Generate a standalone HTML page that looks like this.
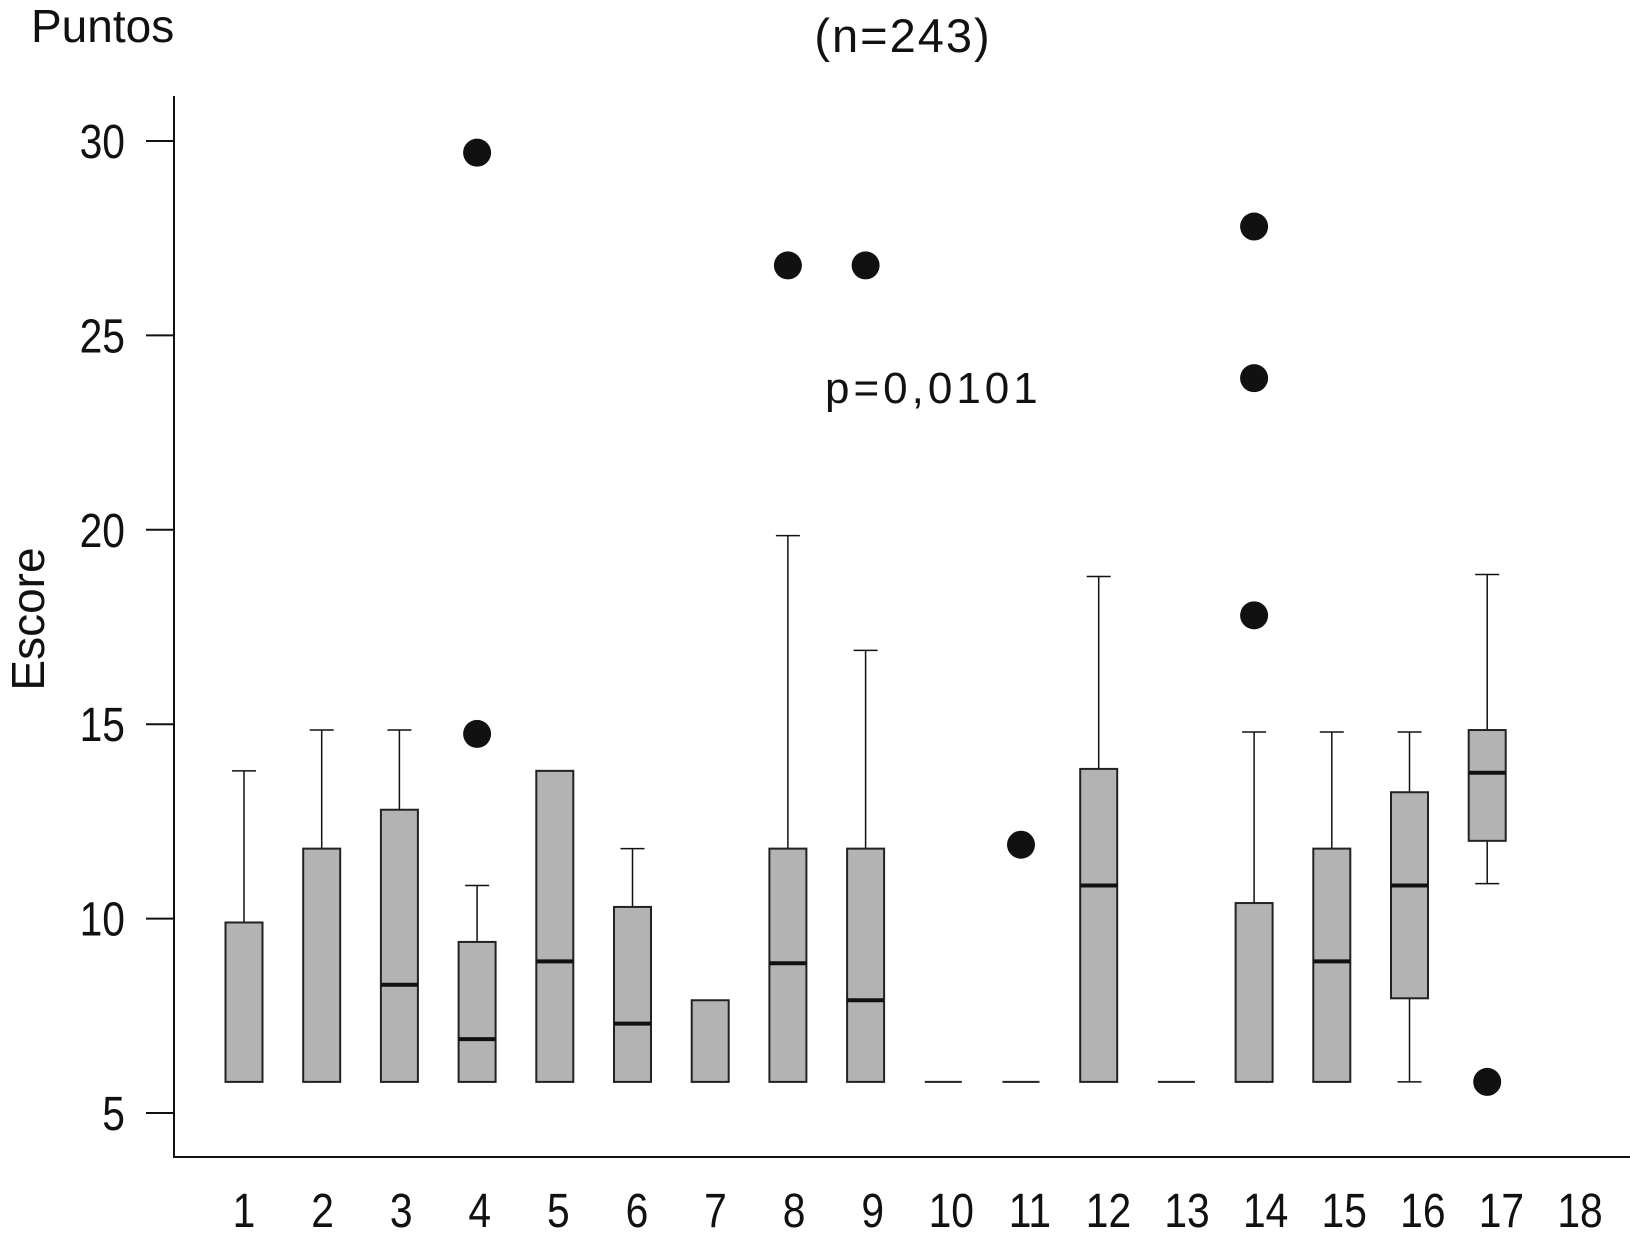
<!DOCTYPE html>
<html><head><meta charset="utf-8"><style>
html,body{margin:0;padding:0;background:#fff;}
svg{display:block;font-family:"Liberation Sans",Arial,sans-serif;}
</style></head><body>
<svg id="chart" width="1630" height="1240" viewBox="0 0 1630 1240">
<text x="31" y="42" font-size="46" fill="#111">Puntos</text>
<text x="903" y="52" font-size="47" fill="#111" text-anchor="middle" letter-spacing="2">(n=243)</text>
<text x="825" y="403" font-size="44" fill="#111" letter-spacing="4">p=0,0101</text>
<text transform="translate(44,619) rotate(-90)" font-size="46" fill="#111" text-anchor="middle">Escore</text>
<g id="axes"></g>
<g id="marks"></g>
</svg>
<script>
const categories = ["1","2","3","4","5","6","7","8","9","10","11","12","13","14","15","16","17","18"];
const whiskerLow = [5.8,5.8,5.8,5.8,5.8,5.8,5.8,5.8,5.8,5.8,5.8,5.8,5.8,5.8,5.8,5.8,10.9,null];
const q1Values   = [5.8,5.8,5.8,5.8,5.8,5.8,5.8,5.8,5.8,5.8,5.8,5.8,5.8,5.8,5.8,7.95,12.0,null];
const medians    = [null,null,8.3,6.9,8.9,7.3,null,8.85,7.9,null,null,10.85,null,null,8.9,10.85,13.75,null];
const q3Values   = [9.9,11.8,12.8,9.4,13.8,10.3,7.9,11.8,11.8,5.8,5.8,13.85,5.8,10.4,11.8,13.25,14.85,null];
const whiskerHigh= [13.8,14.85,14.85,10.85,13.8,11.8,7.9,19.85,16.9,5.8,5.8,18.8,5.8,14.8,14.8,14.8,18.85,null];
const outlierCat = [4,4,8,9,11,14,14,14,17];
const outlierVal = [29.7,14.75,26.8,26.8,11.9,27.8,23.9,17.8,5.8];
const yTicks = [5,10,15,20,25,30];

const NS="http://www.w3.org/2000/svg";
const yScale = v => 1113 - (v-5)*38.88;
const xScale = i => 244 + i*77.7;
function mk(tag, attrs, parent){const e=document.createElementNS(NS,tag);for(const k in attrs)e.setAttribute(k,attrs[k]);parent.appendChild(e);return e;}
const axes=document.getElementById('axes'), marks=document.getElementById('marks');

let a=mk('line',{x1:174,y1:96,x2:174,y2:1158,stroke:'#111','stroke-width':2},axes);


a=mk('line',{x1:173,y1:1157,x2:1630,y2:1157,stroke:'#111','stroke-width':2},axes);


yTicks.forEach(t=>{
  const y=yScale(t);
  const l=mk('line',{x1:146,y1:y,x2:174,y2:y,stroke:'#111','stroke-width':2},axes);
  
  
  const tx=mk('text',{x:0,y:0,transform:'translate(125,'+(y+17)+') scale(0.85,1)','font-size':48,'text-anchor':'end',fill:'#111'},axes);
  tx.textContent=t;
  
  
});
categories.forEach((c,i)=>{
  const tx=mk('text',{x:0,y:0,transform:'translate('+(244+i*(1336/17))+',1227) scale(0.85,1)','font-size':48,'text-anchor':'middle',fill:'#111'},axes);
  tx.textContent=c;
  
  
  if(q3Values[i]===null) return;
  const g=mk('g',{},marks);
  
  
  const w=37, cx=xScale(i), cw=12;
  const lo=yScale(whiskerLow[i]), hi=yScale(whiskerHigh[i]), b1=yScale(q1Values[i]), b3=yScale(q3Values[i]);
  if(whiskerHigh[i]>q3Values[i]){
    mk('line',{x1:cx,y1:hi,x2:cx,y2:b3,stroke:'#111','stroke-width':1.5},g);
    mk('line',{x1:cx-cw,y1:hi,x2:cx+cw,y2:hi,stroke:'#111','stroke-width':1.5},g);
  }
  if(whiskerLow[i]<q1Values[i]){
    mk('line',{x1:cx,y1:lo,x2:cx,y2:b1,stroke:'#111','stroke-width':1.5},g);
    mk('line',{x1:cx-cw,y1:lo,x2:cx+cw,y2:lo,stroke:'#111','stroke-width':1.5},g);
  }
  if(q3Values[i]>q1Values[i]){
    mk('rect',{x:cx-w/2,y:b3,width:w,height:b1-b3,fill:'#b3b3b3',stroke:'#222','stroke-width':2},g);
  } else {
    mk('line',{x1:cx-w/2,y1:b1,x2:cx+w/2,y2:b1,stroke:'#222','stroke-width':2},g);
  }
  if(medians[i]!==null){
    const m=yScale(medians[i]);
    mk('line',{x1:cx-w/2,y1:m,x2:cx+w/2,y2:m,stroke:'#111','stroke-width':4},g);
  }
});
outlierCat.forEach((c,k)=>{
  const o=mk('circle',{cx:xScale(c-1),cy:yScale(outlierVal[k]),r:14,fill:'#111'},marks);
  
  
});
</script>
</body></html>
